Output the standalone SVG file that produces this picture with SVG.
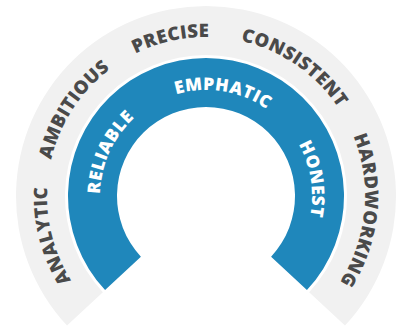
<svg xmlns="http://www.w3.org/2000/svg" width="396" height="326" viewBox="0 0 396 326">
  <style>
    .outer { fill: #f1f1f1; }
    .inner { fill: #1f87bb; }
    .otext { font-family: "Open Sans", "Liberation Sans", sans-serif; font-weight: 800; font-size: 18.5px; fill: #4a4a4a; letter-spacing: 0.4px; }
    .itext { font-family: "Open Sans", "Liberation Sans", sans-serif; font-weight: 800; font-size: 17.5px; fill: #ffffff; letter-spacing: 0.5px; }
  </style>
  <defs>
    <path id="outerPath" d="M 206 355 A 159 159 0 1 1 206 37 A 159 159 0 1 1 206 355"/>
    <path id="innerPath" d="M 206 302 A 106 106 0 1 1 206 90 A 106 106 0 1 1 206 302"/>
  </defs>
  <g id="outer-band">
    <path class="outer" d="M 67.03 325.58 A 190 190 0 1 1 344.97 325.58 L 309.13 292.16 A 141 141 0 1 0 102.87 292.16 Z"/>
  </g>
  <g id="inner-band">
    <path class="inner" d="M 105.07 290.12 A 138 138 0 1 1 306.93 290.12 L 271.09 256.70 A 89 89 0 1 0 140.91 256.70 Z"/>
  </g>
  <g id="outer-labels">
    <text class="otext" text-anchor="middle"><textPath href="#outerPath" startOffset="21%">ANALYTIC</textPath></text>
    <text class="otext" text-anchor="middle"><textPath href="#outerPath" startOffset="34.2%">AMBITIOUS</textPath></text>
    <text class="otext" text-anchor="middle"><textPath href="#outerPath" startOffset="46.5%">PRECISE</textPath></text>
    <text class="otext" text-anchor="middle"><textPath href="#outerPath" startOffset="59.6%">CONSISTENT</textPath></text>
    <text class="otext" text-anchor="middle"><textPath href="#outerPath" startOffset="76.5%">HARDWORKING</textPath></text>
  </g>
  <g id="inner-labels">
    <text class="itext" text-anchor="middle"><textPath href="#innerPath" startOffset="31.8%">RELIABLE</textPath></text>
    <text class="itext" text-anchor="middle"><textPath href="#innerPath" startOffset="52.6%">EMPHATIC</textPath></text>
    <text class="itext" text-anchor="middle"><textPath href="#innerPath" startOffset="72.5%">HONEST</textPath></text>
  </g>
</svg>
